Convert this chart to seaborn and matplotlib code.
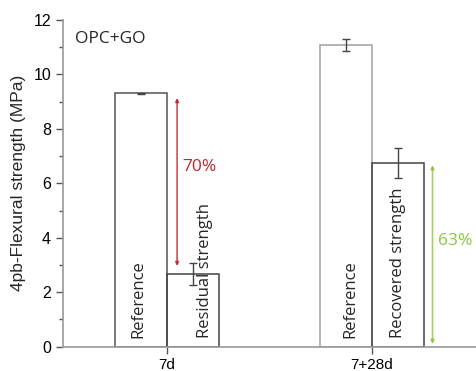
import matplotlib
matplotlib.use("Agg")
import matplotlib.pyplot as plt
from matplotlib.ticker import MultipleLocator
import seaborn as sns
import pandas as pd

# datos
ages = ["7d", "7d", "7+28d", "7+28d"]
kinds = ["Reference", "Damaged", "Reference", "Damaged"]
strength = [9.31, 2.67, 11.07, 6.74]
err = [0.02, 0.42, 0.22, 0.55]
bar_labels = ["Reference", "Residual strength", "Reference", "Recovered strength"]
label_shift = [-0.01, 0.06, 0.02, 0.0]
pct_labels = ["70%", "63%"]
pct_span = [(9.14, 2.96), (6.67, 0.10)]
pct_text_y = [6.6, 3.9]

df = pd.DataFrame({"age": ages, "kind": kinds, "strength": strength, "err": err})

sns.set_style("ticks")
plt.rcParams["font.family"] = ["Liberation Sans", "DejaVu Sans"]

fig = plt.figure(figsize=(4.76, 3.71), dpi=100)
ax = fig.add_axes([0.132, 0.0655, 0.868, 0.8805])

sns.barplot(data=df, x="age", y="strength", hue="kind", width=0.51,
            errorbar=None, fill=False, legend=False, ax=ax)

# estilo de barras y barras de error
bars = [p for p in ax.patches if p.get_height() > 0]
bars = sorted(bars, key=lambda p: p.get_x())
edge_cols = ["#555555", "#444444", "#a0a0a0", "#444444"]
for p, c, e, lab, dx in zip(bars, edge_cols, err, bar_labels, label_shift):
    p.set_edgecolor(c)
    p.set_linewidth(1.1)
    xc = p.get_x() + p.get_width() / 2
    ax.errorbar(xc, p.get_height(), yerr=e, fmt="none", ecolor="#444444",
                elinewidth=1, capsize=2.7, capthick=1)
    ax.text(xc + dx, 0.32, lab, rotation=90, ha="center", va="bottom",
            fontsize=12, family="Open Sans")

# flechas de porcentaje
arrow_cols = ["#c0272d", "#8cc63f"]
arrow_x = [bars[1].get_x() + 0.05, bars[3].get_x() + bars[3].get_width() + 0.04]
for xa, (y0, y1), col, lab, ty in zip(arrow_x, pct_span, arrow_cols, pct_labels, pct_text_y):
    ax.annotate("", xy=(xa, y1), xytext=(xa, y0),
                arrowprops=dict(arrowstyle="<|-|>", color=col, lw=1.2,
                                mutation_scale=5, shrinkA=0, shrinkB=0, alpha=0.8))
    ax.text(xa + 0.025, ty, lab, color=col, fontsize=12.5, family="Open Sans",
            va="center", ha="left")

ax.text(0.03, 0.965, "OPC+GO", transform=ax.transAxes, fontsize=12.5,
        family="Open Sans", va="top", ha="left")

ax.set_xlim(-0.507, 1.507)
ax.set_ylim(0, 12)
ax.yaxis.set_major_locator(MultipleLocator(2))
ax.yaxis.set_minor_locator(MultipleLocator(1))
ax.tick_params(axis="both", which="major", direction="out", length=5,
               width=1, colors="#555555", labelsize=11.5, labelcolor="black")
ax.tick_params(axis="y", which="minor", direction="out", length=3, width=1,
               colors="#555555")
ax.tick_params(axis="x", labelsize=11, pad=3)
for s in ["left", "bottom"]:
    ax.spines[s].set_color("#999999")
    ax.spines[s].set_linewidth(1.2)
sns.despine(ax=ax)
ax.set_xlabel("")
ax.set_ylabel("4pb-Flexural strength (MPa)", fontsize=12.5, labelpad=5)

fig.savefig("out.png", dpi=100)
